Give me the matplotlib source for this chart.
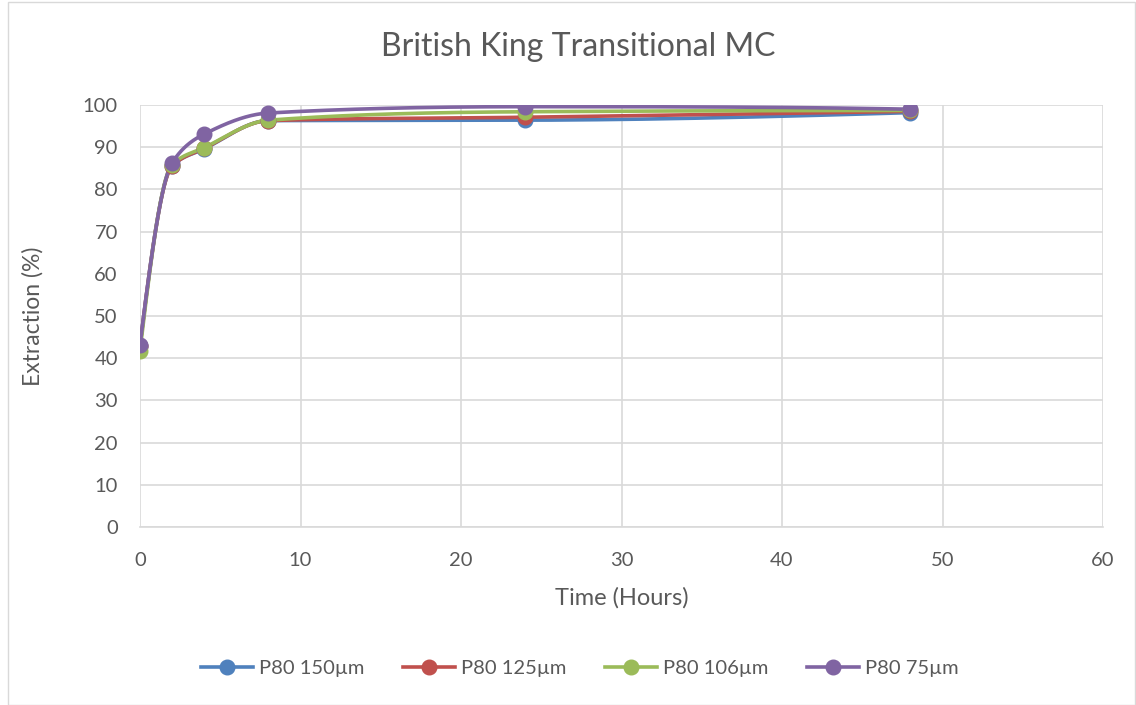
import numpy as np
import matplotlib
matplotlib.use('Agg')
import matplotlib.pyplot as plt
from matplotlib.lines import Line2D

plt.rcParams['font.family'] = ['Lato', 'DejaVu Sans']

time_h = [0, 2, 4, 8, 24, 48]
p150 = [43.0, 85.6, 89.6, 96.3, 96.4, 98.2]
p125 = [43.0, 85.5, 89.7, 96.3, 97.1, 98.5]
p106 = [41.7, 85.9, 89.9, 96.4, 98.4, 98.7]
p75 = [43.1, 86.3, 93.1, 98.1, 99.6, 99.0]

names = ['P80 150µm', 'P80 125µm', 'P80 106µm', 'P80 75µm']
colors = ['#4F81BD', '#C0504D', '#9BBB59', '#8064A2']


def smooth(x, y, n=60):
    # monotone cubic (pchip) so the curve doesn't overshoot like a plain spline
    x = np.asarray(x, float)
    y = np.asarray(y, float)
    h = np.diff(x)
    d = np.diff(y) / h
    m = np.zeros_like(y)
    for k in range(1, len(x) - 1):
        if d[k - 1] * d[k] > 0:
            w1 = 2 * h[k] + h[k - 1]
            w2 = h[k] + 2 * h[k - 1]
            m[k] = (w1 + w2) / (w1 / d[k - 1] + w2 / d[k])

    def end(h0, h1, d0, d1):
        s = ((2 * h0 + h1) * d0 - h0 * d1) / (h0 + h1)
        if np.sign(s) != np.sign(d0):
            return 0.0
        if np.sign(d0) != np.sign(d1) and abs(s) > 3 * abs(d0):
            return 3 * d0
        return s

    m[0] = end(h[0], h[1], d[0], d[1])
    m[-1] = end(h[-1], h[-2], d[-1], d[-2])

    xs, ys = [], []
    t = np.linspace(0, 1, n)
    for k in range(len(h)):
        h00 = 2 * t ** 3 - 3 * t ** 2 + 1
        h10 = t ** 3 - 2 * t ** 2 + t
        h01 = -2 * t ** 3 + 3 * t ** 2
        h11 = t ** 3 - t ** 2
        xs.append(x[k] + t * h[k])
        ys.append(h00 * y[k] + h10 * h[k] * m[k] + h01 * y[k + 1] + h11 * h[k] * m[k + 1])
    return np.concatenate(xs), np.concatenate(ys)


fig = plt.figure(figsize=(11.36, 7.05), dpi=100)
ax = fig.add_axes([140 / 1136, 1 - 527 / 705, 963 / 1136, 422 / 705])

for vals, c in zip([p150, p125, p106, p75], colors):
    sx, sy = smooth(time_h, vals)
    ax.plot(sx, sy, color=c, lw=2.6, solid_capstyle='round', zorder=3)
    ax.plot(time_h, vals, 'o', color=c, ms=10.5, zorder=4)

ax.set_xlim(0, 60)
ax.set_ylim(0, 100)
ax.set_xticks(range(0, 61, 10))
ax.set_yticks(range(0, 101, 10))
ax.grid(color='#D9D9D9', lw=1.2)
ax.set_axisbelow(True)
for s in ['top', 'right', 'left']:
    ax.spines[s].set_visible(False)
ax.spines['bottom'].set_color('#D9D9D9')
ax.spines['bottom'].set_linewidth(1.2)
ax.tick_params(length=0, labelsize=14.5, labelcolor='#595959')
ax.tick_params(axis='x', pad=18)
ax.tick_params(axis='y', pad=16)

fig.text(578 / 1136, 1 - 47 / 705, 'British King Transitional MC', fontsize=23,
         color='#595959', ha='center', va='center')
ax.set_xlabel('Time (Hours)', fontsize=17, color='#595959')
ax.set_ylabel('Extraction (%)', fontsize=16.5, color='#595959')
ax.xaxis.set_label_coords(0.5, (527 - 598) / 422)
ax.yaxis.set_label_coords((33 - 140) / 963, 0.5)
ax.xaxis.label.set_va('center')
ax.yaxis.label.set_va('center')

handles = [Line2D([0], [0], color=c, lw=2.6, marker='o', ms=10.5) for c in colors]
fig.legend(handles, names, loc='center', bbox_to_anchor=(580 / 1136, 1 - 668 / 705), ncol=4,
           frameon=False, fontsize=14.5, labelcolor='#595959', handlelength=2.6,
           handletextpad=0.3, columnspacing=1.9)

# chart border
fig.add_artist(plt.Rectangle((8 / 1136, 0.5 / 705), 1 - 9 / 1136, 1 - 2 / 705,
                             transform=fig.transFigure, fill=False, ec='#D9D9D9', lw=1))

fig.savefig('out.png', dpi=100)
